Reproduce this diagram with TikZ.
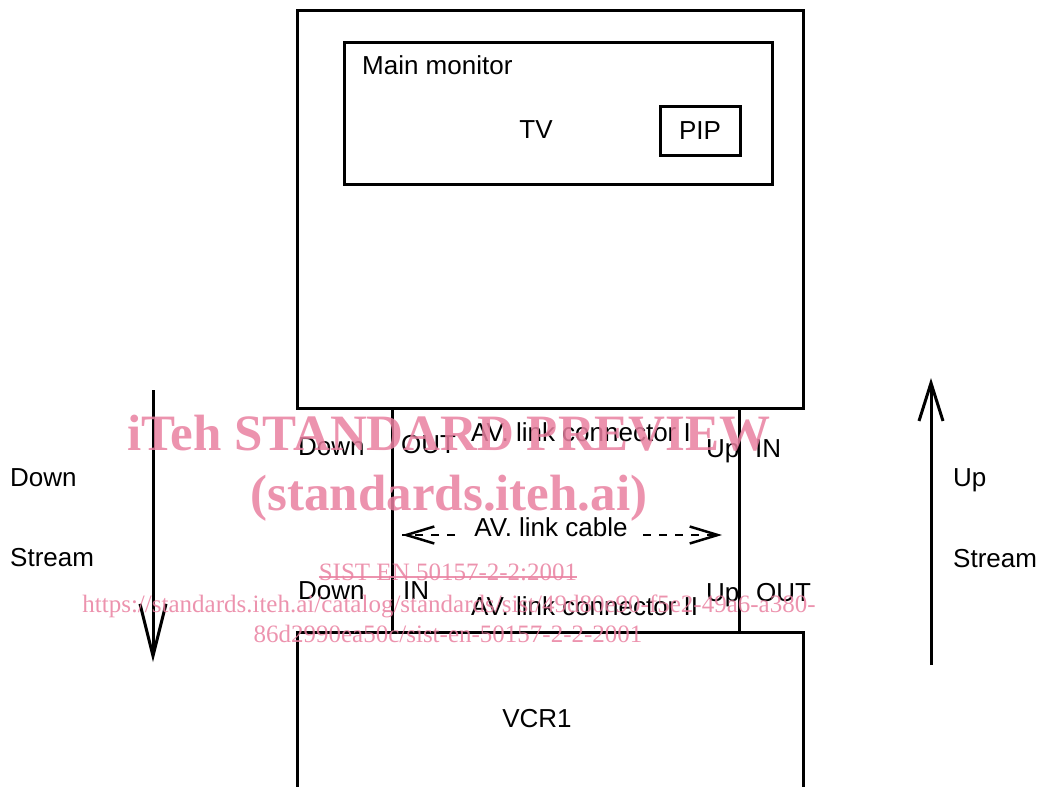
\documentclass[tikz,border=0pt]{standalone}
\usepackage{fontspec}
\setmainfont{Liberation Sans}
\newfontfamily\wmfont{Liberation Serif}
\usetikzlibrary{arrows.meta}
\definecolor{wmpink}{RGB}{233,128,160}
\tikzset{
  box/.style={draw=black, line width=3pt},
  lbl/.style={anchor=base west, inner sep=0pt, font=\fontsize{26}{30}\selectfont},
  clbl/.style={anchor=base, inner sep=0pt, font=\fontsize{26}{30}\selectfont},
  flow/.style={line width=3pt},
  wm/.style={anchor=base, inner sep=0pt, text=wmpink, opacity=0.85},
}
\begin{document}
\begin{tikzpicture}[x=1pt,y=-1pt]
\useasboundingbox (0,0) rectangle (1047,787);
% TV
\draw[box] (297,10) rectangle (803,408);
\draw[box] (344,42) rectangle (772,184);
\node[draw, line width=3pt, minimum width=80pt, minimum height=49pt, inner sep=0pt, font=\fontsize{26}{30}\selectfont] (pip) at (700,130.5) {PIP};
\node[lbl] (mm) at (362,74) {Main monitor};
\node[clbl] (tv) at (536,138) {TV};
% connector section
\coordinate (cTL) at (392,408);
\coordinate (cBL) at (392,632);
\coordinate (cTR) at (739,408);
\coordinate (cBR) at (739,632);
\draw[flow] (cTL) -- (cBL);
\draw[flow] (cTR) -- (cBR);
% VCR
\draw[box] (297,788) -- (297,632) -- (803,632) -- (803,788);
\node[clbl] (vcr) at (537,727) {VCR1};
% connector I labels
\node[lbl] (d1) at (298,455) {Down};
\node[lbl] (o1) at (401,453) {OUT};
\node[lbl] (c1) at (471,441) {AV. link connector I};
\node[lbl] (u1) at (706,457) {Up};
\node[lbl] (i1) at (755,457) {IN};
% cable
\node[clbl] (cable) at (551,536) {AV. link cable};
\coordinate (cl) at (402,535);
\coordinate (cr) at (722,535);
\coordinate (clm) at (455,535);
\coordinate (crm) at (643,535);
\draw[line width=1.2pt, dash pattern=on 8pt off 8pt] (clm) -- (cl);
\draw[line width=1.2pt, dash pattern=on 8pt off 8pt] (crm) -- (cr);
\draw[line width=2.5pt, -{Straight Barb[length=28pt,width=17pt,line width=2.5pt]}] ([xshift=6pt]cl) -- (cl);
\draw[line width=2.5pt, -{Straight Barb[length=28pt,width=17pt,line width=2.5pt]}] ([xshift=-6pt]cr) -- (cr);
% connector II labels
\node[lbl] (d2) at (298,599) {Down};
\node[lbl] (i2) at (403,599) {IN};
\node[lbl] (c2) at (471,615) {AV. link connector II};
\node[lbl] (u2) at (706,601) {Up};
\node[lbl] (o2) at (756,601) {OUT};
% streams
\coordinate (ds) at (153,390);
\coordinate (de) at (153,662);
\coordinate (us) at (931,665);
\coordinate (ue) at (931,378);
\draw[flow, -{Straight Barb[length=52pt,width=26pt,line width=3pt]}] (ds) -- (de);
\draw[flow, -{Straight Barb[length=38pt,width=24pt,line width=3pt]}] (us) -- (ue);
\node[lbl] (dl1) at (10,486) {Down};
\node[lbl] (dl2) at (10,566) {Stream};
\node[lbl] (ul1) at (953,486) {Up};
\node[lbl] (ul2) at (953,567) {Stream};
% watermark
\node[wm, font=\wmfont\bfseries\fontsize{51}{55}\selectfont] (w1) at (449,450) {iTeh STANDARD PREVIEW};
\node[wm, font=\wmfont\bfseries\fontsize{51}{55}\selectfont] (w2) at (449,510) {(standards.iteh.ai)};
\node[wm, font=\wmfont\fontsize{25}{28}\selectfont] (w3) at (448,580) {SIST EN 50157-2-2:2001};
\draw[wmpink, opacity=0.85, line width=1.2pt] ([yshift=3pt]w3.base west) -- ([yshift=3pt]w3.base east);
\node[wm, font=\wmfont\fontsize{25}{28}\selectfont] (w4) at (449,612) {https://standards.iteh.ai/catalog/standards/sist/49d80e90-f5e2-49a6-a380-};
\node[wm, font=\wmfont\fontsize{25}{28}\selectfont] (w5) at (448,642) {86d2990ea50c/sist-en-50157-2-2-2001};
\end{tikzpicture}
\end{document}
